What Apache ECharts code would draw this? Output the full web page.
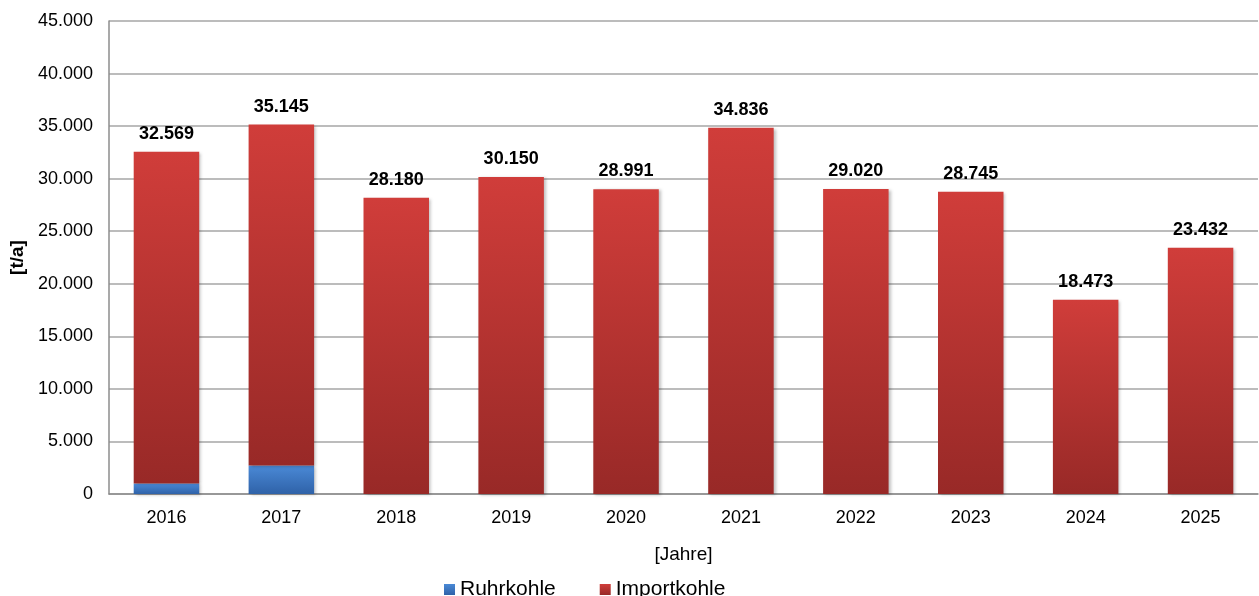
<!DOCTYPE html>
<html>
<head>
<meta charset="utf-8">
<script src="https://cdn.jsdelivr.net/npm/echarts@6/dist/echarts.min.js"></script>
<style>
  html, body { margin: 0; padding: 0; background: #fff; }
  #chart { width: 1259px; height: 596px; }
</style>
</head>
<body>
<div id="chart"></div>
<script>
const years = ['2016', '2017', '2018', '2019', '2020', '2021', '2022', '2023', '2024', '2025'];
const ruhrkohle = [1000, 2700, 0, 0, 0, 0, 0, 0, 0, 0];
const importkohle = [31569, 32445, 28180, 30150, 28991, 34836, 29020, 28745, 18473, 23432];

const fmt = (v) => String(Math.round(v)).replace(/\B(?=(\d{3})+(?!\d))/g, '.');

const chart = echarts.init(document.getElementById('chart'));

const shadow = {
    shadowBlur: 3,
    shadowColor: 'rgba(0,0,0,0.25)',
    shadowOffsetX: 2,
    shadowOffsetY: 1
};

chart.setOption({
    animation: false,
    textStyle: { fontFamily: 'Liberation Sans, Arial, sans-serif' },
    grid: { left: 108, top: 21, right: 1, bottom: 102 },
    legend: {
        left: 439,
        top: 574,
        itemWidth: 11,
        itemHeight: 11,
        itemGap: 44,
        icon: 'rect',
        textStyle: { fontSize: 21, color: '#000' },
        data: ['Ruhrkohle', 'Importkohle']
    },
    xAxis: {
        type: 'category',
        data: years,
        name: '[Jahre]',
        nameLocation: 'middle',
        nameGap: 51,
        nameTextStyle: { fontSize: 19, color: '#000' },
        axisLine: { lineStyle: { color: '#8c8c8c', width: 1.5 } },
        axisTick: { show: false },
        axisLabel: { fontSize: 18, color: '#000', margin: 15 }
    },
    yAxis: {
        type: 'value',
        min: 0,
        max: 45000,
        interval: 5000,
        name: '[t/a]',
        nameLocation: 'middle',
        nameGap: 82,
        nameTextStyle: { fontSize: 19, fontWeight: 'bold', color: '#000' },
        axisLine: { show: true, lineStyle: { color: '#8c8c8c', width: 1.5 } },
        axisTick: { show: false },
        axisLabel: { fontSize: 18, color: '#000', margin: 16, formatter: fmt },
        splitLine: { lineStyle: { color: '#a6a6a6', width: 1.5 } }
    },
    series: [
        {
            name: 'Ruhrkohle',
            type: 'bar',
            stack: 'kohle',
            barWidth: '57%',
            data: ruhrkohle,
            itemStyle: Object.assign({
                color: new echarts.graphic.LinearGradient(0, 0, 0, 1, [
                    { offset: 0, color: '#4a89d6' },
                    { offset: 1, color: '#2f62a8' }
                ])
            }, shadow)
        },
        {
            name: 'Importkohle',
            type: 'bar',
            stack: 'kohle',
            barWidth: '57%',
            data: importkohle,
            itemStyle: Object.assign({
                color: new echarts.graphic.LinearGradient(0, 0, 0, 1, [
                    { offset: 0, color: '#d03d3a' },
                    { offset: 1, color: '#982927' }
                ])
            }, shadow),
            label: {
                show: true,
                position: 'top',
                distance: 9,
                fontSize: 18,
                fontWeight: 'bold',
                color: '#000',
                formatter: (p) => fmt(p.value + ruhrkohle[p.dataIndex])
            }
        }
    ]
});
</script>
</body>
</html>
